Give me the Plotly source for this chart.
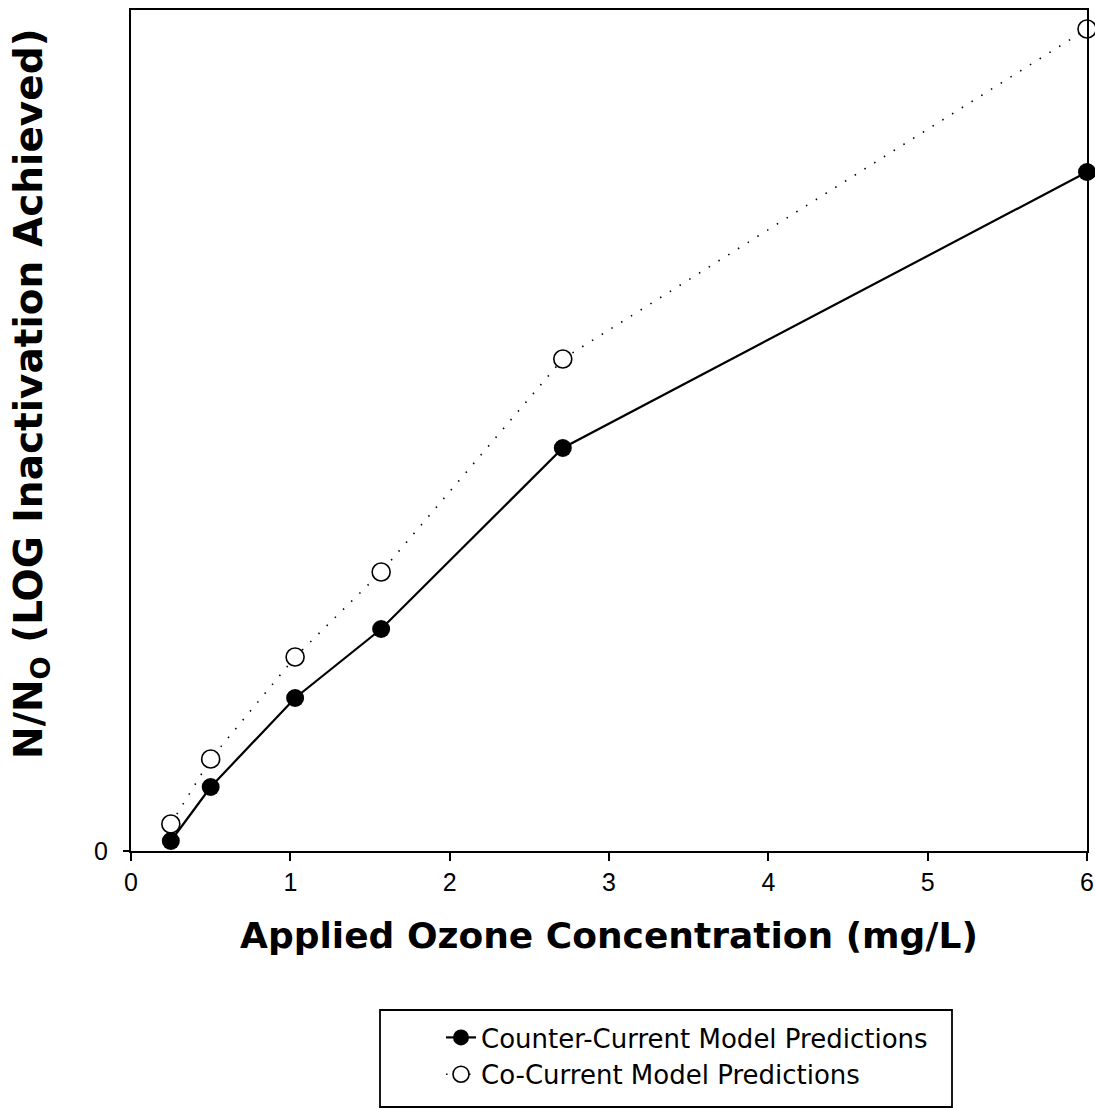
import plotly.graph_objects as go

ozone = [0.25, 0.50, 1.03, 1.57, 2.71, 6.0]
counter_current = [0.10, 0.64, 1.53, 2.22, 4.03, 6.79]
co_current = [0.27, 0.92, 1.94, 2.79, 4.92, 8.22]
x_ticks = [0, 1, 2, 3, 4, 5, 6]
y_ticks = [0]

fig = go.Figure()
fig.add_trace(go.Scatter(
    x=ozone, y=co_current, mode="lines+markers",
    name="Co-Current Model Predictions",
    line=dict(color="black", width=1.6, dash="1.5px,10px"),
    marker=dict(symbol="circle", size=18, color="white", line=dict(color="black", width=1.6)),
    cliponaxis=False,
))
fig.add_trace(go.Scatter(
    x=ozone, y=counter_current, mode="lines+markers",
    name="Counter-Current Model Predictions",
    line=dict(color="black", width=2.2),
    marker=dict(symbol="circle", size=18, color="black"),
    cliponaxis=False,
))

font = "Liberation Sans, Arial, sans-serif"
wide = "DejaVu Sans, sans-serif"
PW = 956.0
fig.update_layout(
    width=1095, height=1108, autosize=False,
    margin=dict(l=131, r=8, t=10, b=257),
    plot_bgcolor="white", paper_bgcolor="white",
    font=dict(family=font, color="black", size=25),
    showlegend=True,
    legend=dict(
        x=(441 - 131) / PW, y=(851 - 1014) / 841, xanchor="left", yanchor="top",
        borderwidth=0, bgcolor="rgba(0,0,0,0)",
        font=dict(size=26, family=wide),
        traceorder="reversed",
    ),
    xaxis=dict(
        range=[0, 6], tickvals=x_ticks, ticktext=[str(v) for v in x_ticks],
        showline=True, linecolor="black", linewidth=2, mirror=True,
        ticks="outside", ticklen=8, tickwidth=1.5, tickcolor="black",
        showgrid=False, zeroline=False, automargin=False,
        title=dict(text="<b>Applied Ozone Concentration (mg/L)</b>",
                   font=dict(size=36, family=wide), standoff=28),
    ),
    yaxis=dict(
        range=[0, 8.41], tickvals=y_ticks, ticktext=["0"],
        showline=True, linecolor="black", linewidth=2, mirror=True,
        ticks="outside", ticklen=6, tickwidth=1.5, tickcolor="black",
        ticklabelstandoff=10, automargin=False,
        showgrid=False, zeroline=False,
    ),
    shapes=[dict(
        type="rect", xref="paper", yref="paper",
        x0=(380 - 131) / PW, x1=(952 - 131) / PW,
        y0=(851 - 1107) / 841, y1=(851 - 1010) / 841,
        line=dict(color="black", width=1.8), fillcolor="rgba(0,0,0,0)",
    )],
    annotations=[dict(
        text="<b>N/N<sub>O</sub> (LOG Inactivation Achieved)</b>",
        xref="paper", yref="paper",
        x=(31 - 131) / PW, y=(851 - 394) / 841,
        xanchor="center", yanchor="middle", textangle=-90, showarrow=False,
        font=dict(size=39, family=wide, color="black"),
    )],
)
fig.write_html(
    "out.html",
    config={"displayModeBar": False},
    post_script="document.body.style.margin='0px';document.body.style.overflow='hidden';",
)
